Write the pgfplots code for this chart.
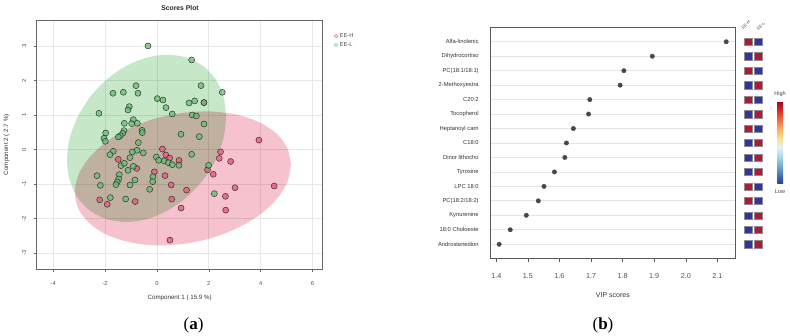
\documentclass[border=0pt]{standalone}
\usepackage{pgfplots}
\pgfplotsset{compat=1.18}
\usepackage{fontspec}
\setmainfont{Liberation Sans}
\newfontfamily\seriffont{Liberation Serif}
\definecolor{ptred}{RGB}{232,90,125}
\definecolor{ptgreen}{RGB}{100,190,110}
\definecolor{ellg}{RGB}{198,232,200}
\definecolor{ellp}{RGB}{246,194,205}
\definecolor{hred}{RGB}{178,24,56}
\definecolor{hblue}{RGB}{52,52,160}
\definecolor{tickgray}{RGB}{80,80,80}
\pgfplotsset{
  colormap={rdylbu}{rgb255=(49,54,149) rgb255=(69,117,180) rgb255=(116,173,209) rgb255=(171,217,233) rgb255=(224,243,248) rgb255=(254,224,144) rgb255=(253,174,97) rgb255=(244,109,67) rgb255=(215,48,39) rgb255=(165,0,38)}
}
\begin{document}
\begin{tikzpicture}
\path[use as bounding box] (0,0) rectangle (790pt,336pt);
% ---------------- panel (a) ----------------
\begin{axis}[
  at={(36.67pt,66.67pt)}, anchor=south west,
  scale only axis, width=286pt, height=249.3pt,
  xmin=-4.64, xmax=6.39, ymin=-3.465, ymax=3.76,
  xtick={-4,-2,0,2,4,6}, xticklabels={-4,-2,0,2,4,6},
  ytick={-3,-2,-1,0,1,2,3}, yticklabels={-3,-2,-1,0,1,2,3},
  tick align=outside, tick pos=left,
  major tick length=3pt,
  tick style={black!60, line width=0.6pt},
  axis line style={black!60, line width=0.8pt},
  grid=major, grid style={black!9, line width=0.8pt},
  ticklabel style={font=\fontsize{5.8}{7}\selectfont, text=tickgray},
  xticklabel style={yshift=-6pt},
  yticklabel style={rotate=90, anchor=south, yshift=4pt},
  xlabel={Component 1 ( 15.9 \%)}, ylabel={Component 2 ( 2.7 \%)},
  label style={font=\fontsize{6.2}{7}\selectfont, text=black!80},
  xlabel style={at={(axis description cs:0.5,-0.114)}, anchor=center},
  ylabel style={at={(axis description cs:-0.105,0.5)}, anchor=center},
  legend style={at={(axis description cs:1.04,0.955)}, anchor=north west, draw=none, fill=none,
    font=\fontsize{5.8}{7}\selectfont, inner sep=0pt, row sep=-0.5pt, text=tickgray},
  legend cell align=left,
  legend image code/.code={\draw[mark repeat=1,mark phase=1,#1] plot coordinates {(0pt,0pt)};},
]
\addlegendimage{only marks, mark=o, mark size=1.7pt, draw=ptred, line width=0.5pt}
\addlegendentry{EE-H}
\addlegendimage{only marks, mark=o, mark size=1.7pt, draw=ptgreen, line width=0.5pt}
\addlegendentry{EE-L}
\addplot[forget plot, draw=none, fill=ellg, blend mode=multiply, smooth] coordinates {
(2.670,0.960)(2.565,1.544)(2.259,2.046)(1.771,2.430)(1.135,2.672)(0.395,2.753)(-0.400,2.670)(-1.195,2.427)(-1.935,2.042)(-2.571,1.539)(-3.059,0.954)(-3.365,0.327)(-3.470,-0.300)(-3.365,-0.884)(-3.059,-1.386)(-2.571,-1.770)(-1.935,-2.012)(-1.195,-2.093)(-0.400,-2.010)(0.395,-1.767)(1.135,-1.382)(1.771,-0.879)(2.259,-0.294)(2.565,0.333)(2.670,0.960)};
\addplot[forget plot, draw=none, fill=ellp, blend mode=multiply, smooth] coordinates {
(5.170,-0.430)(5.028,0.048)(4.611,0.466)(3.949,0.796)(3.085,1.015)(2.079,1.109)(1.000,1.070)(-0.079,0.902)(-1.085,0.615)(-1.949,0.231)(-2.611,-0.226)(-3.028,-0.725)(-3.170,-1.230)(-3.028,-1.708)(-2.611,-2.126)(-1.949,-2.456)(-1.085,-2.675)(-0.079,-2.769)(1.000,-2.730)(2.079,-2.562)(3.085,-2.275)(3.949,-1.891)(4.611,-1.434)(5.028,-0.935)(5.170,-0.430)};
% EE-H
\addplot[forget plot, only marks, mark=*, mark size=3pt, mark options={fill=ptred, fill opacity=0.8, draw=black!80, line width=0.5pt}] coordinates {
(-1.49,-0.28)(-0.78,-0.54)(-0.10,-0.64)(0.31,-0.75)(-2.21,-1.45)(-1.92,-1.58)(-0.84,-1.50)(0.21,0.02)(0.34,-0.15)(0.49,-0.24)(0.85,-0.31)(0.55,-1.02)(0.57,-1.43)(1.14,-1.17)(0.93,-1.69)(0.50,-2.62)(2.45,-0.06)(2.40,-0.25)(2.84,-0.34)(1.95,-0.58)(2.17,-0.71)(3.93,0.28)(4.52,-1.05)(3.01,-1.10)(2.64,-1.35)(2.65,-1.75)(1.81,1.37)};
% EE-L
\addplot[forget plot, only marks, mark=*, mark size=3pt, mark options={fill=ptgreen, fill opacity=0.75, draw=black!80, line width=0.5pt}] coordinates {
(-0.347,3.010)(1.337,2.603)(1.697,1.859)(2.519,1.666)(-0.810,1.859)(-0.733,1.637)(-1.298,1.666)(-1.697,1.637)(0.013,1.482)(0.231,1.443)(0.347,1.221)(1.234,1.357)(1.452,1.415)(1.812,1.366)(-2.237,1.057)(-1.067,1.250)(-1.118,1.154)(0.591,1.038)(1.362,1.009)(1.517,0.980)(1.812,0.748)(-0.913,0.873)(-1.260,0.767)(-0.977,0.758)(-0.758,0.767)(-1.979,0.487)(-1.272,0.555)(-1.324,0.477)(-1.414,0.410)(-1.491,0.371)(-0.578,0.564)(-0.566,0.497)(-2.044,0.332)(-1.992,0.245)(0.925,0.448)(1.632,0.381)(-0.720,0.207)(-1.684,-0.044)(-1.812,-0.141)(-0.771,-0.015)(-0.951,-0.064)(-0.527,-0.093)(-1.041,-0.228)(-1.388,-0.460)(-1.260,-0.392)(-0.913,-0.479)(-1.118,-0.595)(-2.314,-0.750)(-1.452,-0.721)(-1.478,-0.846)(-1.530,-0.933)(-1.581,-1.011)(-2.185,-1.030)(-1.041,-1.020)(-0.848,-0.875)(-0.154,-0.779)(-0.167,-0.924)(-0.283,-1.146)(-1.799,-1.387)(-1.208,-1.426)(-0.026,-0.209)(0.064,-0.305)(0.283,-0.325)(0.437,-0.373)(0.591,-0.431)(0.848,-0.450)(1.337,-0.131)(1.992,-0.450)(2.211,-1.272)};
\end{axis}
\node[font=\bfseries\fontsize{6.8}{8}\selectfont, text=black!85] at (180pt,327.7pt) {Scores Plot};
% ---------------- panel (b) ----------------
\begin{axis}[
  at={(490pt,77.3pt)}, anchor=south west,
  scale only axis, width=245.7pt, height=231.4pt,
  xmin=1.38, xmax=2.158, ymin=0, ymax=16,
  xtick={1.4,1.5,1.6,1.7,1.8,1.9,2.0,2.1}, xticklabels={1.4,1.5,1.6,1.7,1.8,1.9,2.0,2.1},
  ytick={1,...,15},
  yticklabels={Androstenedion,18:0 Choloeste,Kynurenine,PC(18:2/18:2),LPC 18:0,Tyrosine,Dinor lithocho,C18:0,Heptanoyl carn,Tocopherol,C20:2,2-Methoxyestra,PC(18:1/18:1),Dihydrocortiso,Alfa-linolenic},
  ymajorgrids, grid style={black!10, line width=0.8pt},
  tick align=outside, tick pos=left,
  major tick length=3.3pt,
  xtick style={black!65, line width=0.6pt},
  ytick style={draw=none},
  axis line style={black!65, line width=0.8pt},
  xticklabel style={font=\fontsize{7.2}{8}\selectfont, text=tickgray, yshift=-8pt},
  yticklabel style={font=\fontsize{5.8}{7}\selectfont, text=black!80, xshift=-4.5pt},
  xlabel={VIP scores},
  xlabel style={at={(axis description cs:0.5,-0.157)}, anchor=center, font=\fontsize{7}{8}\selectfont, text=black!80},
  clip=false,
  colorbar, colormap name=rdylbu, point meta min=0, point meta max=1,
  colorbar shift/.style={},
  colorbar style={at={(parent axis.south west)}, anchor=north west, xshift=287.3pt, yshift=157pt,
    scale only axis, width=5.7pt, height=82.3pt, ytick=\empty, axis line style={draw=none}},
]
\addplot[only marks, mark=*, mark size=2.2pt, color=black!72] coordinates {
(2.128,15)(1.894,14)(1.804,13)(1.792,12)(1.696,11)(1.692,10)(1.644,9)(1.622,8)(1.617,7)(1.584,6)(1.551,5)(1.533,4)(1.495,3)(1.444,2)(1.409,1)};
% heat cells: red
\addplot[only marks, mark=square*, mark size=4.15pt, mark options={fill=hred, draw=black!45, line width=0.3pt, yscale=0.88}] coordinates {
(2.198,15)(2.198,13)(2.198,11)(2.198,9)(2.198,5)(2.198,4)
(2.230,14)(2.230,12)(2.230,10)(2.230,8)(2.230,7)(2.230,6)(2.230,3)(2.230,2)(2.230,1)};
% heat cells: blue
\addplot[only marks, mark=square*, mark size=4.15pt, mark options={fill=hblue, draw=black!45, line width=0.3pt, yscale=0.88}] coordinates {
(2.198,14)(2.198,12)(2.198,10)(2.198,8)(2.198,7)(2.198,6)(2.198,3)(2.198,2)(2.198,1)
(2.230,15)(2.230,13)(2.230,11)(2.230,9)(2.230,5)(2.230,4)};
\node[rotate=45, anchor=base west, font=\fontsize{4.2}{5}\selectfont, text=black!75, inner sep=0pt] at (axis cs:2.182,15.86) {EE-H};
\node[rotate=45, anchor=base west, font=\fontsize{4.2}{5}\selectfont, text=black!75, inner sep=0pt] at (axis cs:2.230,15.80) {EE-L};
\end{axis}
\node[font=\fontsize{5.5}{6}\selectfont, text=black!75] at (780pt,242pt) {High};
\node[font=\fontsize{5.5}{6}\selectfont, text=black!75] at (780pt,144pt) {Low};
\node[font=\seriffont\fontsize{17}{19}\selectfont] at (193.5pt,11pt) {(\textbf{a})};
\node[font=\seriffont\fontsize{17}{19}\selectfont] at (603pt,11pt) {(\textbf{b})};
\end{tikzpicture}
\end{document}
